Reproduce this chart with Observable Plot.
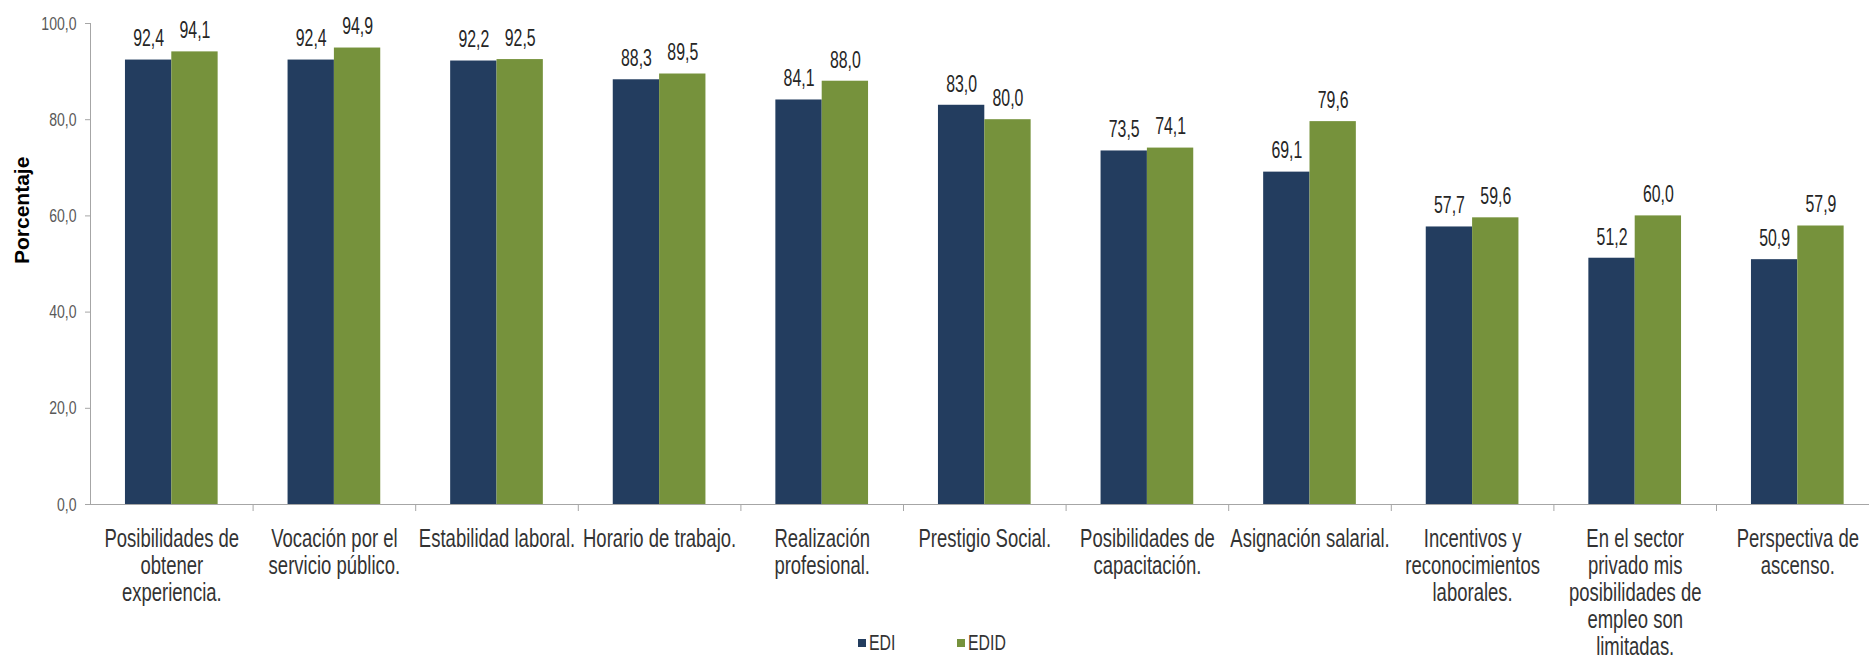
<!DOCTYPE html>
<html>
<head>
<meta charset="utf-8">
<script src="https://cdn.jsdelivr.net/npm/d3@7"></script>
<script src="https://cdn.jsdelivr.net/npm/@observablehq/plot@0.6"></script>
<style>
  html, body { margin: 0; padding: 0; background: #fff; }
  #wrap { position: relative; width: 1869px; height: 670px; overflow: hidden; font-family: "Liberation Sans", Arial, sans-serif; }
  #legend { position: absolute; left: 858px; top: 630px; display: flex; align-items: center; }
  .item { display: flex; align-items: center; width: 99px; }
  .sw { width: 8px; height: 8px; margin-right: 3px; }
  .lt { font-size: 22px; color: #333; display: inline-block; transform: scaleX(0.72); transform-origin: left center; }
</style>
</head>
<body>
<div id="wrap"></div>
<script>
const categories = [
  "Posibilidades de\nobtener\nexperiencia.",
  "Vocación por el\nservicio público.",
  "Estabilidad laboral.",
  "Horario de trabajo.",
  "Realización\nprofesional.",
  "Prestigio Social.",
  "Posibilidades de\ncapacitación.",
  "Asignación salarial.",
  "Incentivos y\nreconocimientos\nlaborales.",
  "En el sector\nprivado mis\nposibilidades de\nempleo son\nlimitadas.",
  "Perspectiva de\nascenso."
];
const series = ["EDI", "EDID"];
const ediValues  = [92.4, 92.4, 92.2, 88.3, 84.1, 83.0, 73.5, 69.1, 57.7, 51.2, 50.9];
const edidValues = [94.1, 94.9, 92.5, 89.5, 88.0, 80.0, 74.1, 79.6, 59.6, 60.0, 57.9];
const colors = ["#233d5f", "#76923c"];
const yTicks = [0, 20, 40, 60, 80, 100];
const yTitle = "Porcentaje";

const fmt = v => v.toFixed(1).replace(".", ",");
const rowsEDI = categories.map((c, i) => ({category: c, series: series[0], value: ediValues[i]}));
const rowsEDID = categories.map((c, i) => ({category: c, series: series[1], value: edidValues[i]}));

const xOpts = {type: "band", domain: categories, range: [90, 1878.6], paddingInner: 0.43, paddingOuter: 0.215, round: false};
const xs = Plot.scale({x: xOpts});
const bw = xs.bandwidth;
const step = xs.apply(categories[1]) - xs.apply(categories[0]);

const axisGray = "#a6a6a6";

const chart = Plot.plot({
  width: 1869,
  height: 670,
  marginLeft: 90,
  marginRight: -9.6,
  marginTop: 23,
  marginBottom: 166,
  style: {fontFamily: "'Liberation Sans', Arial, sans-serif", background: "#fff"},
  x: xOpts,
  y: {domain: [0, 100]},
  color: {domain: series, range: colors},
  marks: [
    Plot.barY(rowsEDI, {x: "category", y: "value", fill: "series", insetRight: bw / 2}),
    Plot.barY(rowsEDID, {x: "category", y: "value", fill: "series", insetLeft: bw / 2}),
    Plot.text(rowsEDI, {x: "category", y: "value", text: d => fmt(d.value), dx: -bw / 4, dy: -21, fontSize: 23, fill: "#262626"}),
    Plot.text(rowsEDID, {x: "category", y: "value", text: d => fmt(d.value), dx: bw / 4, dy: -21, fontSize: 23, fill: "#262626"}),
    Plot.ruleY([0], {stroke: axisGray}),
    Plot.ruleX(categories.slice(1), {x: d => d, y1: 0, y2: 0, insetBottom: -7, dx: -step / 2, stroke: axisGray}),
    Plot.ruleX(categories.slice(0, 1), {x: d => d, y1: 0, y2: 100, dx: -step / 2, stroke: axisGray}),
    Plot.axisY({ticks: yTicks, tickSize: 5, tickPadding: 9, tickFormat: fmt, fontSize: 19, fill: "#595959", stroke: axisGray, label: null}),
    Plot.axisX({anchor: "bottom", tickSize: 0, tickPadding: 23, fontSize: 25, lineHeight: 1.08, fill: "#333", label: null}),
    Plot.text([yTitle], {frameAnchor: "left", rotate: -90, dx: -68, fontSize: 21, fontWeight: "bold", fill: "#000"})
  ]
});

const wrap = document.getElementById("wrap");
wrap.appendChild(chart);

// condense texts horizontally around their anchor (the reference uses a narrow face)
chart.querySelectorAll("text").forEach(t => {
  const tr = t.getAttribute("transform") || "";
  if (tr.includes("rotate")) return;
  const g = t.closest("g[aria-label]");
  const lab = g ? g.getAttribute("aria-label") : "";
  const f = lab.startsWith("y-axis") ? 0.74 : lab.startsWith("x-axis") ? 0.74 : 0.69;
  const x0 = parseFloat(t.getAttribute("x")) || 0;
  t.setAttribute("transform", `${tr} translate(${x0},0) scale(${f},1) translate(${-x0},0)`.trim());
});

// legend
const legend = document.createElement("div");
legend.id = "legend";
series.forEach((s, i) => {
  const item = document.createElement("div");
  item.className = "item";
  const sw = document.createElement("span");
  sw.className = "sw";
  sw.style.background = colors[i];
  const lt = document.createElement("span");
  lt.className = "lt";
  lt.textContent = s;
  item.appendChild(sw);
  item.appendChild(lt);
  legend.appendChild(item);
});
wrap.appendChild(legend);
</script>
</body>
</html>
